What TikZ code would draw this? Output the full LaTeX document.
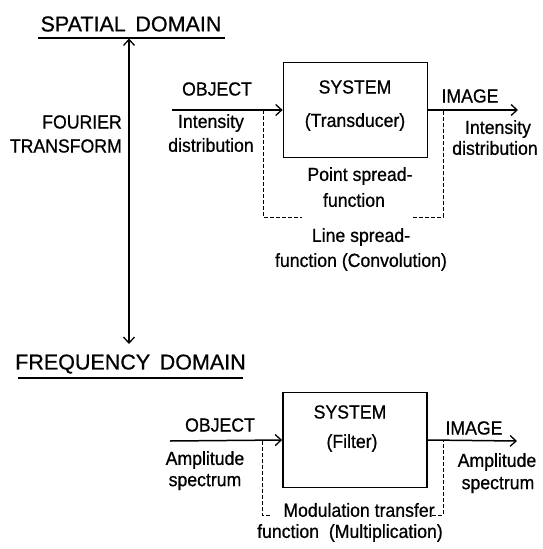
\documentclass[tikz,border=0pt]{standalone}
\usepackage{fontspec}
\usetikzlibrary{arrows.meta}
\newfontfamily\diagfont[FakeStretch=0.93,FakeBold=0.7]{Liberation Sans}
\newfontfamily\headfam[FakeBold=0.7]{Liberation Sans}
\newcommand{\lblfont}{\diagfont\fontsize{19}{22}\selectfont}
\newcommand{\headfont}{\headfam\fontsize{21.5}{26}\selectfont}
\begin{document}
\begin{tikzpicture}[x=1pt,y=-1pt,
  barb/.tip={Straight Barb[length=6pt,width=11pt,line width=1.3pt]},
  lbl/.style={font=\lblfont, inner sep=0pt, align=center},
  head/.style={font=\headfont, inner sep=0pt},
  sysbox/.style={draw, line width=1.7pt, minimum width=144pt, minimum height=95pt, inner sep=0pt},
  flow/.style={line width=1.5pt, -{barb}},
  kernel/.style={line width=1pt, dash pattern=on 4pt off 2pt}]
\useasboundingbox (0,0) rectangle (542,549);

% ---- spatial domain ----
\node[head] (spatial) at (131,24) {SPATIAL\ \,DOMAIN};
\draw[line width=1.4pt] (38,38) -- (225,38);

\coordinate (ftTop) at (129,38.5);
\coordinate (ftBot) at (129,344);
\draw[line width=1.5pt, {barb}-{barb}] (ftTop) -- (ftBot);
\node[lbl, anchor=east] (fourier) at (122,122) {FOURIER};
\node[lbl, anchor=east] (transform) at (122,146) {TRANSFORM};

\node[sysbox] (sys1) at (355.5,110) {};
\node[lbl] (sysA) at (355,87) {SYSTEM};
\node[lbl] (trans) at (355,122) {(Transducer)};

\coordinate (in1) at (172,110);
\coordinate (out1) at (518,110);
\draw[flow] (in1) -- (sys1.west);
\draw[flow] (sys1.east) -- (out1);

\node[lbl] (obj1) at (217,89) {OBJECT};
\node[lbl] (inA) at (211,123) {Intensity};
\node[lbl] (inB) at (211,145) {distribution};
\node[lbl] (img1) at (470,96) {IMAGE};
\node[lbl] (outA) at (498,129) {Intensity};
\node[lbl] (outB) at (495,148) {distribution};

% point / line spread brackets
\coordinate (k1a) at (263,110);
\coordinate (k1b) at (263,217);
\coordinate (k1c) at (302,217);
\coordinate (k1d) at (413,217);
\coordinate (k1e) at (443,217);
\coordinate (k1f) at (443,110);
\draw[kernel] (k1a) -- (k1b) -- (k1c);
\draw[kernel] (k1d) -- (k1e) -- (k1f);

\node[lbl] (psfA) at (360,176) {Point spread-};
\node[lbl] (psfB) at (354,200) {function};
\node[lbl] (lsfA) at (361,237) {Line spread-};
\node[lbl] (lsfB) at (361,262) {function (Convolution)};

% ---- frequency domain ----
\node[head] (freq) at (130.5,364) {FREQUENCY\ \,DOMAIN};
\draw[line width=1.4pt] (18,378) -- (243,378);

\node[sysbox] (sys2) at (355,440) {};
\node[lbl] (sysB) at (350,412) {SYSTEM};
\node[lbl] (filt) at (352,443) {(Filter)};

\coordinate (in2) at (170,441);
\coordinate (out2) at (517,441);
\draw[flow] (in2) -- (sys2.west);
\draw[flow] (sys2.east) -- (out2);

\node[lbl] (obj2) at (220,425) {OBJECT};
\node[lbl] (amA) at (205,460) {Amplitude};
\node[lbl] (amB) at (205,482) {spectrum};
\node[lbl] (img2) at (474,428) {IMAGE};
\node[lbl] (amC) at (497,462) {Amplitude};
\node[lbl] (amD) at (498,485) {spectrum};

\coordinate (k2a) at (262,441);
\coordinate (k2b) at (262,515);
\coordinate (k2c) at (270,515);
\coordinate (k2d) at (432,515);
\coordinate (k2e) at (443,515);
\coordinate (k2f) at (443,441);
\draw[kernel] (k2a) -- (k2b) -- (k2c);
\draw[kernel] (k2d) -- (k2e) -- (k2f);

\node[lbl] (mtfA) at (359,510) {Modulation transfer};
\node[lbl] (mtfB) at (350,533) {function\ \ (Multiplication)};
\end{tikzpicture}
\end{document}
